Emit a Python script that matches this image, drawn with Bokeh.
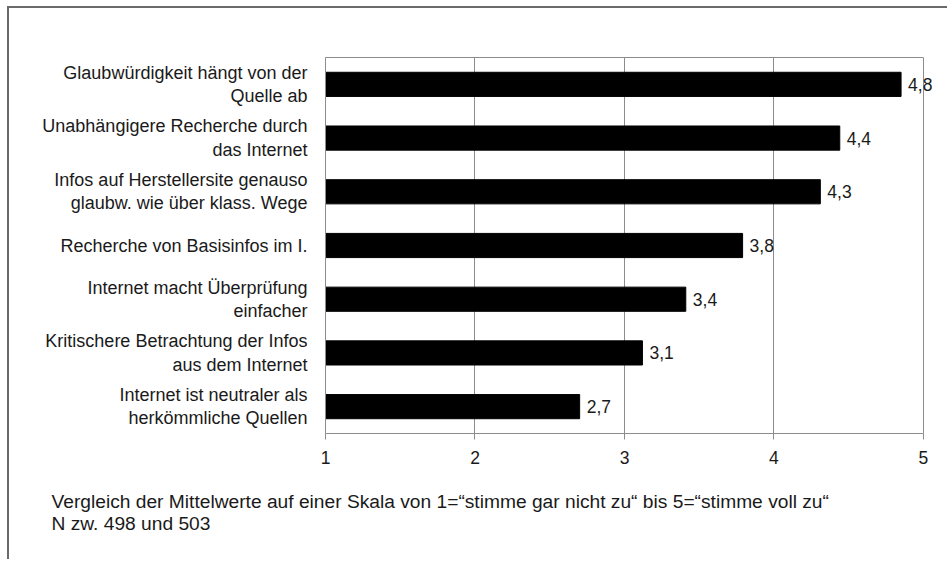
from bokeh.plotting import figure
from bokeh.models import FactorRange, LinearAxis, Grid, FixedTicker, Title, ColumnDataSource, Range1d
from bokeh.embed import file_html
from bokeh.resources import INLINE
from bokeh.core.properties import value

categories = [
    "Glaubwürdigkeit hängt von der\nQuelle ab",
    "Unabhängigere Recherche durch\ndas Internet",
    "Infos auf Herstellersite genauso\nglaubw. wie über klass. Wege",
    "Recherche von Basisinfos im I.",
    "Internet macht Überprüfung\neinfacher",
    "Kritischere Betrachtung der Infos\naus dem Internet",
    "Internet ist neutraler als\nherkömmliche Quellen",
]
means = [4.85, 4.44, 4.31, 3.79, 3.41, 3.12, 2.70]
value_labels = ["4,8", "4,4", "4,3", "3,8", "3,4", "3,1", "2,7"]
x_ticks = [1, 2, 3, 4, 5]
footnote = [
    "Vergleich der Mittelwerte auf einer Skala von 1=\u201cstimme gar nicht zu\u201c bis 5=\u201cstimme voll zu\u201c",
    "N zw. 498 und 503",
]

FONT = "Liberation Sans"
TXT = "#1a1a1a"
GRID = "#8c8c8c"

src = ColumnDataSource(dict(cat=categories, val=means, lab=value_labels, left=[1] * len(means)))

p = figure(
    y_range=FactorRange(*reversed(categories), range_padding=0),
    x_range=Range1d(1, 5.174),
    width=940, height=553,
    output_backend="svg", toolbar_location=None,
    min_border_left=316, min_border_right=0, min_border_top=49, min_border_bottom=128,
)
p.outline_line_color = None
p.background_fill_color = "white"
p.border_fill_color = "white"

p.hbar(y="cat", left="left", right="val", height=0.45, source=src, color="black")
p.text(x="val", y="cat", text="lab", source=src, x_offset=7, text_baseline="middle",
       text_font=value(FONT), text_font_size="17.5px", text_color=TXT)

# grid
p.xgrid.visible = False
p.ygrid.visible = False
p.add_layout(Grid(dimension=0, ticker=FixedTicker(ticks=x_ticks[1:]), grid_line_color=GRID, grid_line_width=1))

# x axis
xa = p.xaxis[0]
xa.ticker = FixedTicker(ticks=x_ticks)
xa.bounds = (x_ticks[0], x_ticks[-1])
xa.axis_line_color = GRID
xa.major_tick_line_color = GRID
xa.major_tick_in = 0
xa.major_tick_out = 6
xa.minor_tick_line_color = None
xa.major_label_text_font = FONT
xa.major_label_text_font_size = "17.5px"
xa.major_label_text_color = TXT
xa.major_label_standoff = 11

# top frame line
top = LinearAxis(ticker=FixedTicker(ticks=[]), bounds=(x_ticks[0], x_ticks[-1]),
                 axis_line_color=GRID, major_tick_line_color=None,
                 minor_tick_line_color=None, major_label_text_font_size="0px")
p.add_layout(top, "above")

# y axis
ya = p.yaxis[0]
ya.axis_line_color = GRID
ya.major_tick_line_color = None
ya.minor_tick_line_color = None
ya.major_label_text_font = FONT
ya.major_label_text_font_size = "18px"
ya.major_label_text_color = TXT
ya.major_label_standoff = 12
ya.major_label_text_line_height = 1.17

p.add_layout(Title(text="\n".join(footnote), align="left", offset=-274, text_font=FONT,
                   text_font_size="19.2px", text_font_style="normal", text_color=TXT,
                   text_line_height=1.05, standoff=46), "below")

p.styles = {"border-top": "2px solid #6a6a6a", "border-left": "2px solid #6a6a6a",
            "margin-top": "6px", "margin-left": "7px"}

open("out.html", "w").write(file_html(p, INLINE))
